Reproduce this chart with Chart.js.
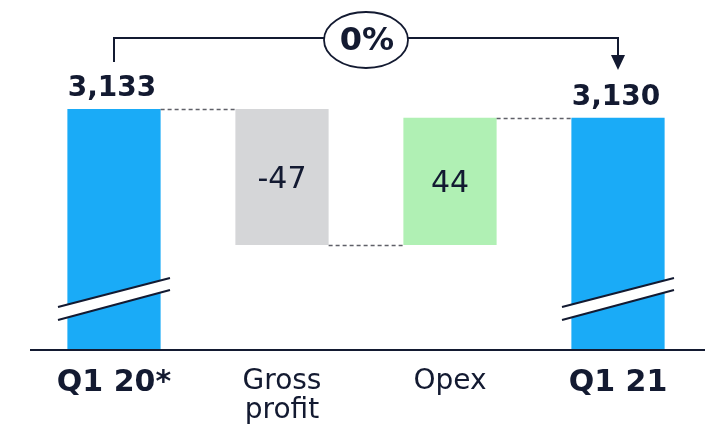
<!DOCTYPE html>
<html>
<head>
<meta charset="utf-8">
<script src="https://cdn.jsdelivr.net/npm/chart.js@4"></script>
<style>
  html, body { margin: 0; padding: 0; background: #fff; }
  #wrap { width: 705px; height: 429px; }
</style>
</head>
<body>
<div id="wrap"><canvas id="myChart"></canvas></div>
<script>
let categories = ["Q1 20*", ["Gross", "profit"], "Opex", "Q1 21"];
let totalLabels = ["3,133", "", "", "3,130"];
let startValue = 3133;
let deltas = [-47, 44];
let endValue = 3130;
let changeLabel = "0%";
let axisBase = 3050; // broken axis, bars start here

let navy = "#131a31";
let colors = ["#1aabf7", "#d5d6d8", "#b0f0b4", "#1aabf7"];

// build floating ranges from the values
let ranges = [[axisBase, startValue]];
let running = startValue;
deltas.forEach((d) => {
    let next = running + d;
    ranges.push([Math.min(running, next), Math.max(running, next)]);
    running = next;
});
ranges.push([axisBase, endValue]);
let levels = [startValue, startValue + deltas[0], endValue]; // connector heights

const waterfallExtras = {
    id: "waterfallExtras",
    afterDatasetsDraw(chart) {
        const ctx = chart.ctx;
        const meta = chart.getDatasetMeta(0);
        const y = chart.scales.y;
        const bars = meta.data;
        ctx.save();

        // axis line out to the right edge
        let axisY = chart.chartArea.bottom;
        ctx.strokeStyle = navy;
        ctx.lineWidth = 2;
        ctx.beginPath();
        ctx.moveTo(chart.chartArea.left, axisY + 1);
        ctx.lineTo(chart.width, axisY + 1);
        ctx.stroke();

        // dashed connectors
        ctx.strokeStyle = "#5f6068";
        ctx.lineWidth = 1.3;
        ctx.setLineDash([4, 3]);
        for (let i = 0; i < bars.length - 1; i++) {
            let yy = Math.round(y.getPixelForValue(levels[i])) + 0.5;
            ctx.beginPath();
            ctx.moveTo(bars[i].x + bars[i].width / 2, yy);
            ctx.lineTo(bars[i + 1].x - bars[i + 1].width / 2, yy);
            ctx.stroke();
        }
        ctx.setLineDash([]);

        // axis break marks on the total bars
        [0, bars.length - 1].forEach((i) => {
            let b = bars[i];
            let base = b.base;
            let x1 = b.x - 56, x2 = b.x + 56;
            ctx.fillStyle = "#fff";
            ctx.beginPath();
            ctx.moveTo(x1, base - 42);
            ctx.lineTo(x2, base - 71);
            ctx.lineTo(x2, base - 59);
            ctx.lineTo(x1, base - 29);
            ctx.closePath();
            ctx.fill();
            ctx.strokeStyle = navy;
            ctx.lineWidth = 2;
            ctx.beginPath();
            ctx.moveTo(x1, base - 42);
            ctx.lineTo(x2, base - 71);
            ctx.moveTo(x1, base - 29);
            ctx.lineTo(x2, base - 59);
            ctx.stroke();
        });

        // value labels
        ctx.fillStyle = navy;
        ctx.textAlign = "center";
        ctx.textBaseline = "alphabetic";
        ctx.font = "bold 28px 'DejaVu Sans'";
        [0, bars.length - 1].forEach((i) => {
            ctx.fillText(totalLabels[i], bars[i].x - 2, bars[i].y - 13);
        });
        ctx.font = "30px 'DejaVu Sans'";
        ctx.textBaseline = "middle";
        deltas.forEach((d, k) => {
            let b = bars[k + 1];
            let top = Math.min(b.y, b.base), bot = Math.max(b.y, b.base);
            ctx.fillText(String(d), b.x, (top + bot) / 2 + 3);
        });

        // bracket with change bubble
        let xa = bars[0].x, xb = bars[bars.length - 1].x;
        let lineY = 38;
        ctx.strokeStyle = navy;
        ctx.lineWidth = 2;
        ctx.beginPath();
        ctx.moveTo(xa, 62);
        ctx.lineTo(xa, lineY);
        ctx.lineTo(xb, lineY);
        ctx.lineTo(xb, 56);
        ctx.stroke();
        ctx.fillStyle = navy;
        ctx.beginPath();
        ctx.moveTo(xb - 7, 55);
        ctx.lineTo(xb + 7, 55);
        ctx.lineTo(xb, 70);
        ctx.closePath();
        ctx.fill();

        let cx = (xa + xb) / 2;
        ctx.fillStyle = "#fff";
        ctx.beginPath();
        ctx.ellipse(cx, 40, 42, 28, 0, 0, Math.PI * 2);
        ctx.fill();
        ctx.lineWidth = 1.8;
        ctx.stroke();
        ctx.fillStyle = navy;
        ctx.font = "bold 32px 'DejaVu Sans'";
        ctx.textBaseline = "middle";
        ctx.fillText(changeLabel, cx + 1, 42);

        ctx.restore();
    }
};

const ctx = document.getElementById("myChart");
let chart = new Chart(ctx, {
    type: "bar",
    data: {
        labels: categories,
        datasets: [{
            data: ranges,
            backgroundColor: colors,
            borderWidth: 0,
            categoryPercentage: 1,
            barPercentage: 0.555,
        }]
    },
    options: {
        responsive: true,
        maintainAspectRatio: false,
        animation: false,
        layout: { padding: { left: 30, right: 3, top: 31, bottom: 0 } },
        plugins: {
            legend: { display: false },
            tooltip: { enabled: false },
        },
        scales: {
            x: {
                grid: { display: false, drawTicks: false },
                border: { display: false },
                ticks: {
                    color: navy,
                    padding: 18,
                    maxRotation: 0,
                    autoSkip: false,
                    font: (c) => {
                        let bold = c.index === 0 || c.index === 3;
                        return {
                            family: "'DejaVu Sans'",
                            size: bold ? 30 : 28,
                            weight: bold ? "bold" : "normal",
                            lineHeight: 1.05,
                        };
                    },
                },
                afterFit: (scale) => { scale.height = 80; },
            },
            y: {
                display: false,
                min: axisBase,
                max: 3160,
            }
        }
    },
    plugins: [waterfallExtras]
});
</script>
</body>
</html>
